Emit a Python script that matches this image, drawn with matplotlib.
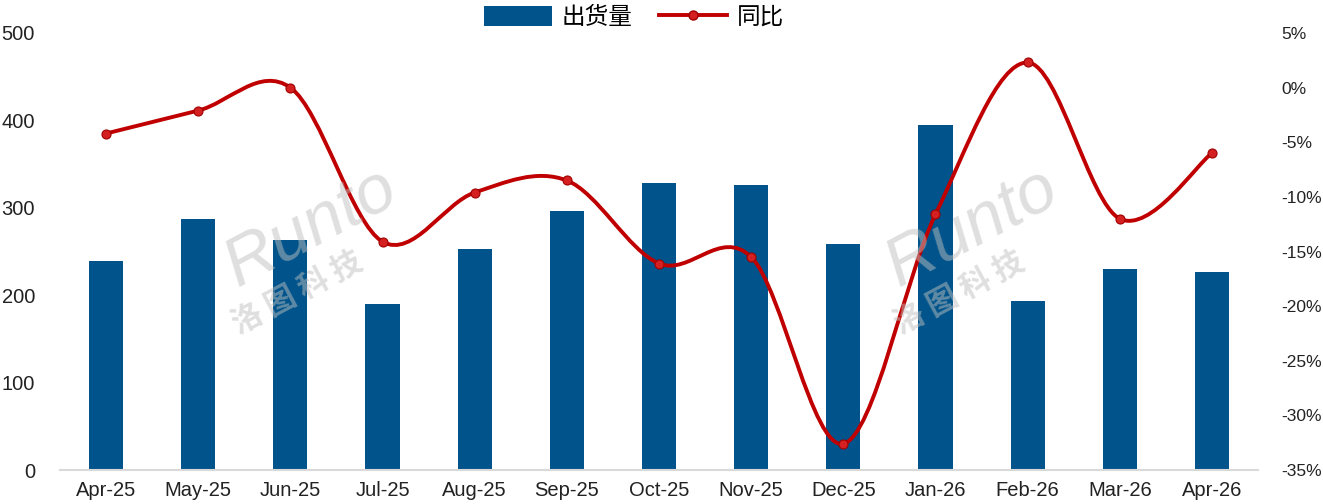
import matplotlib
matplotlib.use("Agg")
import matplotlib.pyplot as plt
from matplotlib.path import Path
from matplotlib.patches import PathPatch
from matplotlib.ticker import FuncFormatter

plt.rcParams['font.family'] = ['Liberation Sans', 'Noto Sans CJK SC', 'DejaVu Sans']

months = ["Apr-25", "May-25", "Jun-25", "Jul-25", "Aug-25", "Sep-25", "Oct-25",
          "Nov-25", "Dec-25", "Jan-26", "Feb-26", "Mar-26", "Apr-26"]
shipments = [239, 287, 263, 190, 253, 296, 328, 326, 259, 395, 193, 230, 227]
yoy = [-4.2, -2.1, 0.0, -14.1, -9.6, -8.5, -16.1, -15.5, -32.6, -11.6, 2.3, -12.0, -6.0]

bar_color = "#00548B"
line_color = "#C00000"


def smooth_path(xs, ys):
    # catmull-rom style smoothing, like the spreadsheet "smoothed line"
    n = len(xs)
    verts = [(xs[0], ys[0])]
    codes = [Path.MOVETO]
    for i in range(n - 1):
        x0, y0 = (xs[i - 1], ys[i - 1]) if i > 0 else (xs[i], ys[i])
        x1, y1 = xs[i], ys[i]
        x2, y2 = xs[i + 1], ys[i + 1]
        x3, y3 = (xs[i + 2], ys[i + 2]) if i + 2 < n else (x2, y2)
        c1 = (x1 + (x2 - x0) / 6, y1 + (y2 - y0) / 6)
        c2 = (x2 - (x3 - x1) / 6, y2 - (y3 - y1) / 6)
        verts += [c1, c2, (x2, y2)]
        codes += [Path.CURVE4] * 3
    return Path(verts, codes)


fig = plt.figure(figsize=(13.23, 5.04), dpi=100)
ax = fig.add_axes([60 / 1323, 34 / 504, 1198 / 1323, 437 / 504])
ax2 = ax.twinx()

x = list(range(len(months)))
bars = ax.bar(x, shipments, width=0.37, color=bar_color, zorder=2, label="出货量")
ax.set_xlim(-0.5, len(months) - 0.5)
ax.set_ylim(0, 500)
ax.set_yticks(range(0, 501, 100))
ax.set_xticks(x)
ax.set_xticklabels(months, fontsize=14.5)
ax.tick_params(axis='y', labelsize=14.5, length=0, pad=18, colors="#222222")
ax.tick_params(axis='x', length=0, pad=8, colors="#222222")
for s in ["top", "right", "left"]:
    ax.spines[s].set_visible(False)
ax.spines["bottom"].set_color("#d9d9d9")
ax.spines["bottom"].set_linewidth(1.5)

ax2.set_ylim(-35, 5)
ax2.set_yticks(range(-35, 6, 5))
ax2.yaxis.set_major_formatter(FuncFormatter(lambda v, p: f"{v:.0f}%"))
ax2.tick_params(axis='y', length=0, pad=17, colors="#222222")
for lab in ax2.get_yticklabels():
    lab.set_family(['Liberation Sans Narrow', 'Liberation Sans'])
    lab.set_fontsize(12.5)
for s in ax2.spines.values():
    s.set_visible(False)

ax2.add_patch(PathPatch(smooth_path(x, yoy), facecolor="none", edgecolor=line_color,
                        lw=2.8, zorder=3))
ax2.plot(x, yoy, linestyle="none", marker="o", markersize=6.5, color="#D42020",
         markeredgecolor="#A00000", markeredgewidth=0.8, zorder=4)

# watermark
for wx in (0.235, 0.735):
    fig.text(wx, 0.55, "Runto", fontsize=50, color="#bfbfbf", alpha=0.5,
             rotation=28, ha="center", va="center", style="italic", zorder=10)
    fig.text(wx - 0.01, 0.42, "洛 图 科 技", fontsize=22, color="#bfbfbf", alpha=0.5,
             rotation=28, ha="center", va="center", fontweight="bold", zorder=10,
             family=['Noto Sans CJK SC'])

# legend
line_handle, = ax2.plot([], [], color=line_color, lw=2.8, marker="o", markersize=6.5,
                        markerfacecolor="#D42020", markeredgecolor="#A00000", label="同比")
fig.legend(handles=[bars, line_handle], loc="upper center", bbox_to_anchor=(0.479, 1.03),
           ncol=2, frameon=False, handlelength=2.9, handleheight=0.9,
           columnspacing=1.1, handletextpad=0.4, prop={'family': ['Noto Sans CJK SC'], 'size': 17})

fig.savefig("out.png", dpi=100)
